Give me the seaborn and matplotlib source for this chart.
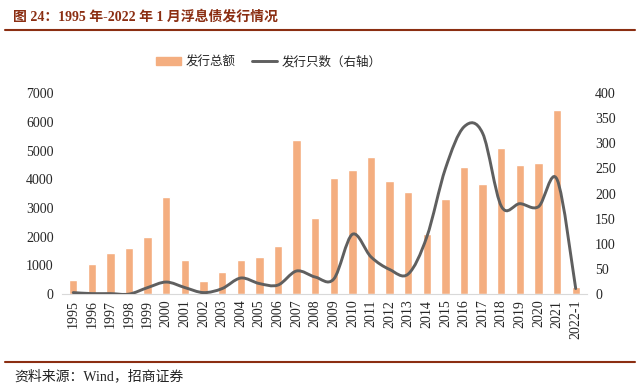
import seaborn as sns
import matplotlib.pyplot as plt
import pandas as pd
import numpy as np
from matplotlib.path import Path
from matplotlib.patches import PathPatch, Patch
from matplotlib.lines import Line2D

years = ['1995', '1996', '1997', '1998', '1999', '2000', '2001', '2002', '2003', '2004',
         '2005', '2006', '2007', '2008', '2009', '2010', '2011', '2012', '2013', '2014',
         '2015', '2016', '2017', '2018', '2019', '2020', '2021', '2022-1']
amount = [500, 1040, 1430, 1600, 1990, 3390, 1180, 450, 780, 1200,
          1280, 1660, 5360, 2650, 4060, 4320, 4790, 3940, 3540, 2110,
          3310, 4420, 3830, 5080, 4490, 4560, 6420, 240]
count = [3, 1, 1, 0, 13, 24, 13, 3, 11, 32,
         21, 18, 46, 34, 30, 119, 74, 49, 40, 114,
         250, 333, 320, 175, 180, 174, 228, 11]

bar_color = '#F4AE80'
line_color = '#5F5F5F'
red = '#8B2E12'

sns.set_style('white')
plt.rcParams['font.family'] = ['Liberation Serif', 'Noto Sans CJK SC', 'DejaVu Sans']

df = pd.DataFrame({'year': years, 'amount': amount, 'count': count})

fig = plt.figure(figsize=(6.4, 3.88), dpi=100)
ax = fig.add_axes([0.097, 0.242, 0.82, 0.518])
sns.barplot(data=df, x='year', y='amount', color=bar_color, width=0.45,
            saturation=1, ax=ax)
ax.set_ylim(0, 7000)
ax.set_yticks(range(0, 7001, 1000))
ax.set_xlim(-0.6, len(years) - 0.4)
ax.set_xlabel('')
ax.set_ylabel('')
for s in ['top', 'right', 'left']:
    ax.spines[s].set_visible(False)
ax.spines['bottom'].set_color('#D9D9D9')
ax.tick_params(axis='x', rotation=90, labelsize=10, length=0, pad=4)
ax.tick_params(axis='y', labelsize=10, length=0, pad=6)

# smooth line, Excel style (bezier through the points)
ax2 = ax.twinx()
ax2.set_ylim(0, 400)
ax2.set_yticks(range(0, 401, 50))
xs = np.arange(len(count), dtype=float)
ys = np.array(count, dtype=float)
verts = [(xs[0], ys[0])]
codes = [Path.MOVETO]
n = len(xs)
for i in range(n - 1):
    p0 = (xs[max(i - 1, 0)], ys[max(i - 1, 0)])
    p1 = (xs[i], ys[i])
    p2 = (xs[i + 1], ys[i + 1])
    p3 = (xs[min(i + 2, n - 1)], ys[min(i + 2, n - 1)])
    c1 = (p1[0] + (p2[0] - p0[0]) / 6, p1[1] + (p2[1] - p0[1]) / 6)
    c2 = (p2[0] - (p3[0] - p1[0]) / 6, p2[1] - (p3[1] - p1[1]) / 6)
    verts += [c1, c2, p2]
    codes += [Path.CURVE4] * 3
ax2.add_patch(PathPatch(Path(verts, codes), facecolor='none', edgecolor=line_color,
                        lw=2.1, capstyle='round'))
for s in ['top', 'right', 'left', 'bottom']:
    ax2.spines[s].set_visible(False)
ax2.tick_params(axis='y', labelsize=10, length=0, pad=6)
ax2.set_xlim(ax.get_xlim())

handles = [Patch(color=bar_color, label='发行总额'),
           Line2D([0], [0], color=line_color, lw=2.1, label='发行只数（右轴）')]
fig.legend(handles=handles, loc='center', bbox_to_anchor=(0.42, 0.84), ncol=2,
           frameon=False, handlelength=2.0, handleheight=0.6, handletextpad=0.4,
           columnspacing=1.3, prop={'family': ['Noto Sans CJK SC'], 'size': 9})

fig.text(0.021, 0.958, '图 24：1995 年-2022 年 1 月浮息债发行情况', color=red,
         fontsize=10, fontweight='bold', va='center', ha='left')
fig.add_artist(Line2D([0.008, 0.992], [0.923, 0.923], color=red, lw=1.5))
fig.add_artist(Line2D([0.008, 0.992], [0.067, 0.067], color=red, lw=1.5))
fig.text(0.023, 0.03, '资料来源：Wind，招商证券', fontsize=10, va='center', ha='left',
         color='#222222')

fig.savefig('out.png', dpi=100)
